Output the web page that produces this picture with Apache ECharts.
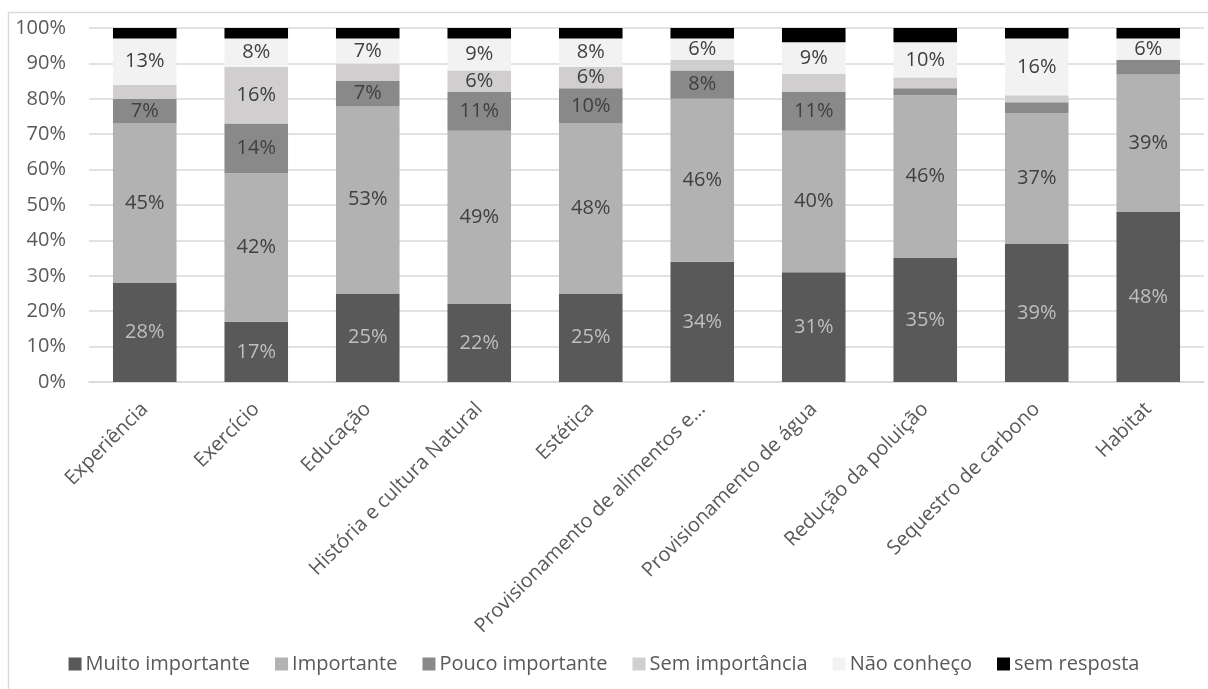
<!DOCTYPE html>
<html>
<head>
<meta charset="utf-8">
<script src="https://cdn.jsdelivr.net/npm/echarts@6/dist/echarts.min.js"></script>
<style>
  html, body { margin: 0; padding: 0; background: #fff; }
  #chart { width: 1208px; height: 689px; }
</style>
</head>
<body>
<div id="chart"></div>
<script>
// categorias e valores (%)
const categories = [
  'Experiência', 'Exercício', 'Educação', 'História e cultura Natural', 'Estética',
  'Provisionamento de alimentos e...', 'Provisionamento de água', 'Redução da poluição',
  'Sequestro de carbono', 'Habitat'
]
const muitoImportante = [28, 17, 25, 22, 25, 34, 31, 35, 39, 48]
const importante      = [45, 42, 53, 49, 48, 46, 40, 46, 37, 39]
const poucoImportante = [7, 14, 7, 11, 10, 8, 11, 2, 3, 4]
const semImportancia  = [4, 16, 5, 6, 6, 3, 5, 3, 2, 0]
const naoConheco      = [13, 8, 7, 9, 8, 6, 9, 10, 16, 6]
const semResposta     = [3, 3, 3, 3, 3, 3, 4, 4, 3, 3]
const yTicks = [0, 10, 20, 30, 40, 50, 60, 70, 80, 90, 100]

const FONT = '"Open Sans", sans-serif'
const FS = 20

const chart = echarts.init(document.getElementById('chart'))

const makeSeries = (name, data, color, labelColor, showLabel) => ({
  name,
  type: 'bar',
  stack: 'total',
  barCategoryGap: '43%',
  data,
  itemStyle: { color },
  label: {
    show: showLabel,
    position: 'inside',
    color: labelColor,
    fontFamily: FONT,
    fontSize: FS,
    formatter: p => (p.value >= 6 ? p.value + '%' : '')
  },
  emphasis: { disabled: true }
})

const option = {
  animation: false,
  graphic: [{
    type: 'rect',
    shape: { x: 8.5, y: 12.5, width: 1220, height: 700 },
    style: { fill: 'none', stroke: '#d9d9d9', lineWidth: 1.5 },
    silent: true
  }],
  grid: { left: 89, right: 4, top: 28, bottom: 307 },
  legend: {
    bottom: 10,
    left: 'center',
    itemWidth: 13,
    itemHeight: 13,
    itemGap: 25,
    icon: 'rect',
    textStyle: { fontFamily: FONT, fontSize: FS, color: '#595959', padding: [0, 0, 0, -1] },
    data: ['Muito importante', 'Importante', 'Pouco importante', 'Sem importância', 'Não conheço', 'sem resposta']
  },
  xAxis: {
    type: 'category',
    data: categories,
    axisLine: { lineStyle: { color: '#d9d9d9', width: 1.5 } },
    axisTick: { show: false },
    axisLabel: {
      rotate: 45,
      interval: 0,
      margin: 24,
      fontFamily: FONT,
      fontSize: FS,
      color: '#595959'
    }
  },
  yAxis: {
    type: 'value',
    min: 0,
    max: 100,
    interval: 10,
    axisLine: { show: false },
    axisTick: { show: false },
    splitLine: { lineStyle: { color: '#d9d9d9', width: 1.5 } },
    axisLabel: {
      margin: 23,
      fontFamily: FONT,
      fontSize: FS,
      color: '#595959',
      formatter: v => (yTicks.includes(v) ? v + '%' : '')
    }
  },
  series: [
    makeSeries('Muito importante', muitoImportante, '#595959', '#bfbfbf', true),
    makeSeries('Importante', importante, '#b2b2b2', '#404040', true),
    makeSeries('Pouco importante', poucoImportante, '#898989', '#404040', true),
    makeSeries('Sem importância', semImportancia, '#d0cece', '#404040', true),
    makeSeries('Não conheço', naoConheco, '#f2f2f2', '#404040', true),
    makeSeries('sem resposta', semResposta, '#000000', '#404040', false)
  ]
}

chart.setOption(option)
</script>
</body>
</html>
